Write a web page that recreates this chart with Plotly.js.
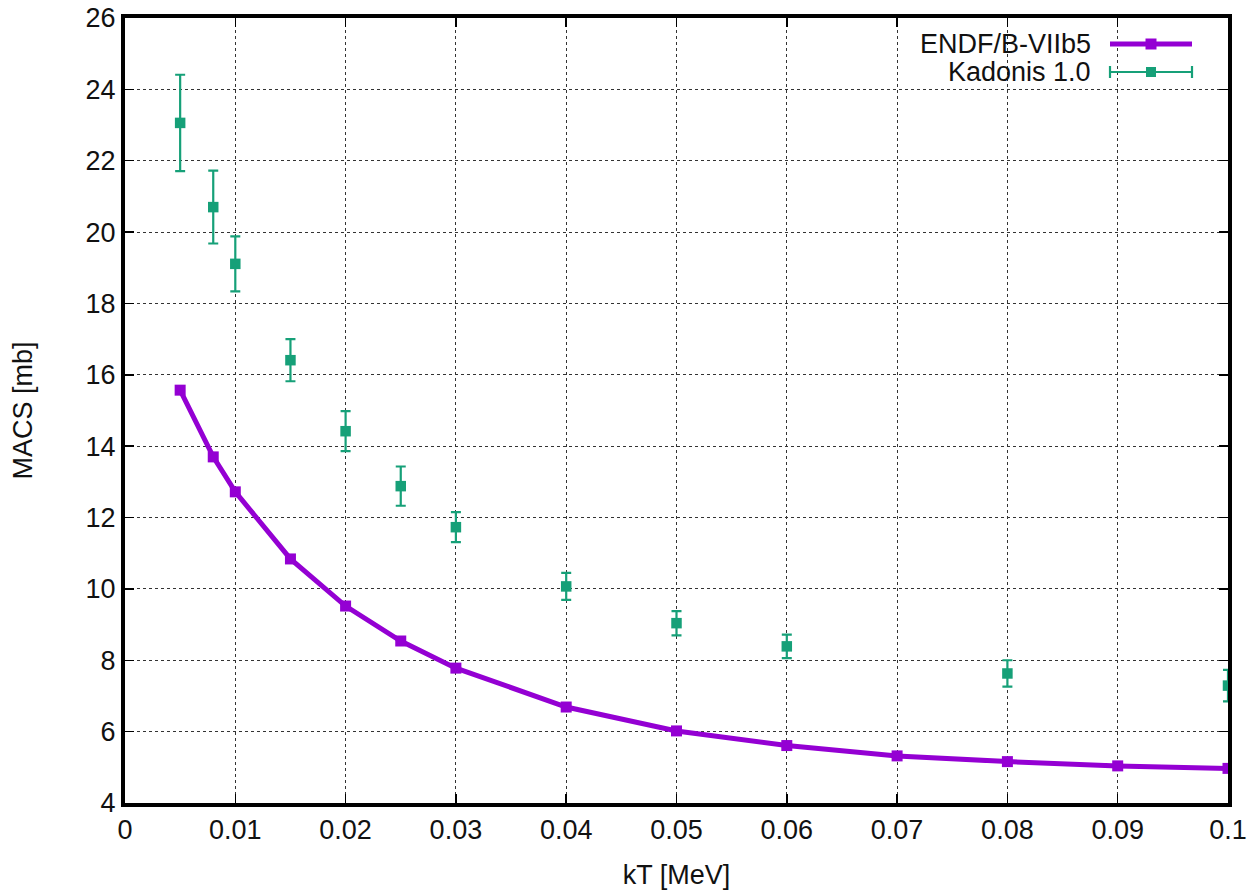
<!DOCTYPE html>
<html>
<head>
<meta charset="utf-8">
<script src="https://cdn.plot.ly/plotly-3.0.1.min.js"></script>
<style>html,body{margin:0;padding:0;background:#fff;}#chart{width:1247px;height:890px;}</style>
</head>
<body>
<div id="chart"></div>
<script>
// ENDF/B-VIIb5 series
const endfKT = [0.005, 0.008, 0.010, 0.015, 0.020, 0.025, 0.030, 0.040, 0.050, 0.060, 0.070, 0.080, 0.090, 0.100];
const endfMACS = [15.57, 13.70, 12.72, 10.84, 9.52, 8.54, 7.78, 6.69, 6.02, 5.61, 5.32, 5.16, 5.04, 4.97];

// Kadonis 1.0 series
const kadKT = [0.005, 0.008, 0.010, 0.015, 0.020, 0.025, 0.030, 0.040, 0.050, 0.060, 0.080, 0.100];
const kadMACS = [23.06, 20.70, 19.11, 16.41, 14.42, 12.88, 11.73, 10.07, 9.04, 8.39, 7.63, 7.29];
const kadErr = [1.35, 1.02, 0.77, 0.59, 0.56, 0.55, 0.42, 0.38, 0.34, 0.33, 0.37, 0.44];

const xTicks = [0, 0.01, 0.02, 0.03, 0.04, 0.05, 0.06, 0.07, 0.08, 0.09, 0.1];
const xTickText = ['0', '0.01', '0.02', '0.03', '0.04', '0.05', '0.06', '0.07', '0.08', '0.09', '0.1'];
const yTicks = [4, 6, 8, 10, 12, 14, 16, 18, 20, 22, 24, 26];

const purple = '#9400D3';
const green = '#16A078';
const W = 1247, H = 890;
const mL = 125, mR = 19, mT = 18, mB = 87;
const pw = W - mL - mR, ph = H - mT - mB;
const px = v => (v - mL) / pw;
const py = v => (H - mB - v) / ph;

const traces = [
  {
    x: endfKT, y: endfMACS, type: 'scatter', mode: 'lines+markers', name: 'ENDF/B-VIIb5',
    line: {color: purple, width: 5},
    marker: {symbol: 'square', size: 11, color: purple},
    showlegend: false
  },
  {
    x: kadKT, y: kadMACS, type: 'scatter', mode: 'markers', name: 'Kadonis 1.0',
    marker: {symbol: 'square', size: 10.5, color: green},
    error_y: {type: 'data', array: kadErr, visible: true, color: green, thickness: 2.2, width: 5},
    showlegend: false
  }
];

const fontFam = '"Liberation Sans", Arial, Helvetica, sans-serif';
const fs = 27;

// legend drawn manually (text left of sample, gnuplot style)
const legY1 = 44, legY2 = 72, legX0 = 1110, legX1 = 1192, legM = 1151, legTextR = 1093;
const shapes = [
  {type: 'line', xref: 'paper', yref: 'paper', x0: px(legX0), x1: px(legX1), y0: py(legY1), y1: py(legY1), line: {color: purple, width: 5}},
  {type: 'rect', xref: 'paper', yref: 'paper', x0: px(legM - 5.5), x1: px(legM + 5.5), y0: py(legY1 - 5.5), y1: py(legY1 + 5.5), fillcolor: purple, line: {width: 0}},
  {type: 'line', xref: 'paper', yref: 'paper', x0: px(legX0), x1: px(legX1), y0: py(legY2), y1: py(legY2), line: {color: green, width: 2.2}},
  {type: 'line', xref: 'paper', yref: 'paper', x0: px(legX0), x1: px(legX0), y0: py(legY2 - 6), y1: py(legY2 + 6), line: {color: green, width: 2.2}},
  {type: 'line', xref: 'paper', yref: 'paper', x0: px(legX1), x1: px(legX1), y0: py(legY2 - 6), y1: py(legY2 + 6), line: {color: green, width: 2.2}},
  {type: 'rect', xref: 'paper', yref: 'paper', x0: px(legM - 5), x1: px(legM + 5), y0: py(legY2 - 5), y1: py(legY2 + 5), fillcolor: green, line: {width: 0}}
];
const annotations = [
  {xref: 'paper', yref: 'paper', x: px(legTextR), y: py(legY1), xanchor: 'right', yanchor: 'middle', text: 'ENDF/B-VIIb5', showarrow: false, font: {family: fontFam, size: fs, color: '#111'}},
  {xref: 'paper', yref: 'paper', x: px(legTextR), y: py(legY2), xanchor: 'right', yanchor: 'middle', text: 'Kadonis 1.0', showarrow: false, font: {family: fontFam, size: fs, color: '#111'}}
];

const axisCommon = {
  showline: true, linecolor: '#000', linewidth: 4, mirror: 'ticks',
  ticks: 'inside', ticklen: 9, tickwidth: 1.5, tickcolor: '#000',
  showgrid: true, gridcolor: '#333', gridwidth: 1, griddash: 'dot',
  zeroline: false,
  tickfont: {family: fontFam, size: fs, color: '#111'}
};

const layout = {
  width: W, height: H,
  margin: {l: mL, r: mR, t: mT, b: mB},
  paper_bgcolor: '#fff', plot_bgcolor: '#fff',
  showlegend: false,
  xaxis: Object.assign({}, axisCommon, {
    range: [0, 0.1], tickmode: 'array', tickvals: xTicks, ticktext: xTickText,
    title: {text: 'kT [MeV]', font: {family: fontFam, size: fs, color: '#111'}, standoff: 24}
  }),
  yaxis: Object.assign({}, axisCommon, {
    range: [4, 26], tickmode: 'array', tickvals: yTicks, ticksuffix: '\u00a0',
    title: {text: 'MACS [mb]', font: {family: fontFam, size: fs, color: '#111'}, standoff: 46}
  }),
  shapes: shapes,
  annotations: annotations
};

Plotly.newPlot('chart', traces, layout, {displayModeBar: false, staticPlot: true});
</script>
</body>
</html>
